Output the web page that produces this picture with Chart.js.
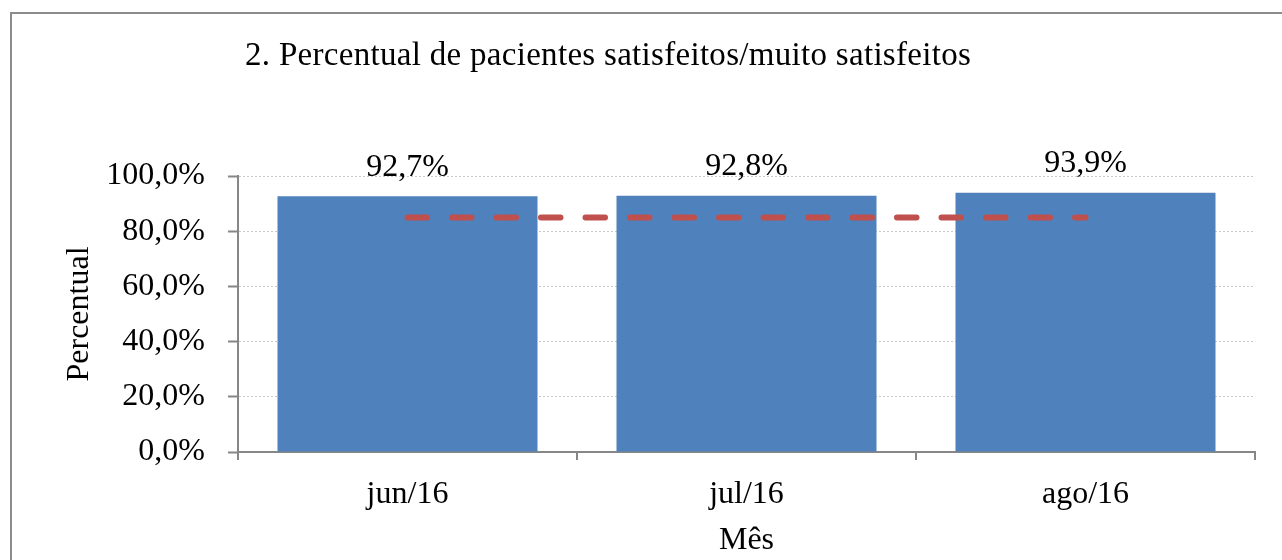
<!DOCTYPE html>
<html>
<head>
<meta charset="utf-8">
<script src="https://cdn.jsdelivr.net/npm/chart.js@4"></script>
<style>
  body { margin: 0; background: #fff; overflow: hidden; }
  canvas { display: block; }
</style>
</head>
<body>
<canvas id="chart" width="1282" height="560"></canvas>
<script>
const chartTitle = "2. Percentual de pacientes satisfeitos/muito satisfeitos";
const months = ["jun/16", "jul/16", "ago/16"];
const satisfied = [92.7, 92.8, 93.9];
const target = [85, 85, 85];
const yTickStep = 20;

const serif = "'Liberation Serif', 'Times New Roman', serif";
const axisGray = "#878787";

function fmtPct(v) {
  return v.toFixed(1).replace(".", ",") + "%";
}

// frame around the figure + title text
const framePlugin = {
  id: "frame",
  beforeDraw(chart) {
    const ctx = chart.ctx;
    ctx.save();
    ctx.fillStyle = "#fff";
    ctx.fillRect(0, 0, chart.width, chart.height);
    ctx.strokeStyle = "#8c8c8c";
    ctx.lineWidth = 2;
    ctx.strokeRect(11, 13, 1320, 620);
    ctx.restore();
  },
  afterDraw(chart) {
    const ctx = chart.ctx;
    ctx.save();
    ctx.font = "33px " + serif;
    ctx.letterSpacing = "0.3px";
    ctx.fillStyle = "#000";
    ctx.textAlign = "left";
    ctx.textBaseline = "middle";
    ctx.fillText(chartTitle, 245, 56);
    ctx.restore();
  },
};

// value labels above the bars
const barLabels = {
  id: "barLabels",
  afterDatasetsDraw(chart) {
    const meta = chart.getDatasetMeta(1);
    const ctx = chart.ctx;
    ctx.save();
    ctx.font = "32px " + serif;
    ctx.fillStyle = "#000";
    ctx.textAlign = "center";
    ctx.textBaseline = "middle";
    meta.data.forEach((bar, i) => {
      ctx.fillText(fmtPct(satisfied[i]), bar.x, bar.y - 29);
    });
    ctx.restore();
  },
};

new Chart(document.getElementById("chart"), {
  data: {
    labels: months,
    datasets: [
      {
        type: "line",
        label: "Meta",
        data: target,
        borderColor: "#C0504D",
        borderWidth: 6,
        borderDash: [19.5, 25],
        borderCapStyle: "round",
        pointRadius: 0,
        order: 0,
      },
      {
        type: "bar",
        label: "Percentual",
        data: satisfied,
        backgroundColor: "#4F81BD",
        barPercentage: 0.767,
        categoryPercentage: 1,
        order: 1,
      },
    ],
  },
  options: {
    responsive: false,
    animation: false,
    layout: { padding: { left: 0, right: 27, top: 176, bottom: 0 } },
    plugins: {
      legend: { display: false },
      tooltip: { enabled: false },
    },
    scales: {
      x: {
        afterFit: (s) => { s.height = 108; },
        grid: {
          offset: true,
          drawOnChartArea: false,
          color: axisGray,
          lineWidth: 2,
          tickLength: 8,
        },
        border: { color: axisGray, width: 2 },
        ticks: { color: "#000", font: { family: serif, size: 32 }, padding: 15 },
        title: {
          display: true,
          text: "Mês",
          color: "#000",
          font: { family: serif, size: 32 },
          padding: { top: 0, bottom: 0 },
        },
      },
      y: {
        min: 0,
        max: 100,
        afterFit: (s) => { s.width = 238; },
        grid: {
          color: "#c8c8c8",
          lineWidth: 1,
          tickColor: axisGray,
          tickWidth: 2,
          tickLength: 10,
        },
        border: { color: axisGray, width: 2, dash: [2, 2] },
        ticks: {
          stepSize: yTickStep,
          color: "#000",
          font: { family: serif, size: 32 },
          padding: 23,
          callback: (v) => fmtPct(v),
        },
        title: {
          display: true,
          text: "Percentual",
          color: "#000",
          font: { family: serif, size: 32 },
          padding: { top: 60, bottom: 0 },
        },
      },
    },
  },
  plugins: [framePlugin, barLabels],
});
</script>
</body>
</html>
